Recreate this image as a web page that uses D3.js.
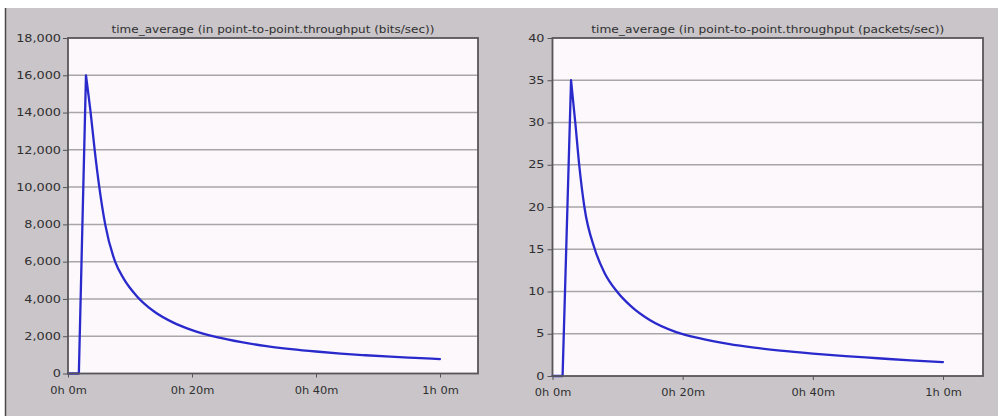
<!DOCTYPE html>
<html>
<head>
<meta charset="utf-8">
<script src="https://cdn.jsdelivr.net/npm/d3@7"></script>
<style>
  html, body { margin: 0; padding: 0; background: #ffffff; }
  svg { display: block; }
  text { font-family: "DejaVu Sans", "Liberation Sans", sans-serif; fill: #303030; }
</style>
</head>
<body>
<svg id="chart" width="998" height="416"></svg>
<script>
// ---- data ----
const xTickMinutes = [0, 20, 40, 60];
const xTickLabels = ["0h 0m", "0h 20m", "0h 40m", "1h 0m"];

const bitsTitle = "time_average (in point-to-point.throughput (bits/sec))";
const bitsTicks = [0, 2000, 4000, 6000, 8000, 10000, 12000, 14000, 16000, 18000];
const bitsMinutes = [0, 1.75, 2.9, 3.65, 4.3, 5.05, 6.0, 7.6, 9.0, 11.1, 14, 17, 20, 24, 28, 32, 36, 40, 44, 48, 52, 56, 60];
const bitsValues  = [0, 0, 16000, 14000, 12000, 10000, 8000, 6000, 5080, 4150, 3300, 2730, 2330, 1950, 1680, 1470, 1310, 1180, 1070, 980, 900, 835, 775];

const packetsTitle = "time_average (in point-to-point.throughput (packets/sec))";
const packetsTicks = [0, 5, 10, 15, 20, 25, 30, 35, 40];
const packetsMinutes = [0, 1.55, 2.85, 3.5, 4.1, 4.9, 6.5, 8.0, 9.9, 12, 15, 19, 23, 27, 31, 35, 40, 45, 50, 55, 60];
const packetsValues  = [0, 0, 35, 30, 25, 20, 15, 12.2, 10, 8.3, 6.6, 5.2, 4.4, 3.8, 3.35, 3.0, 2.65, 2.35, 2.1, 1.85, 1.65];

// ---- drawing ----
const svg = d3.select("#chart");
svg.append("rect").attr("x", 0).attr("y", 0).attr("width", 998).attr("height", 416).attr("fill", "#ffffff");
svg.append("rect").attr("x", 5).attr("y", 8).attr("width", 993).attr("height", 408).attr("fill", "#c9c5c9");
svg.append("line").attr("x1", 5.5).attr("x2", 5.5).attr("y1", 8).attr("y2", 416)
   .attr("stroke", "#4a4a4a").attr("stroke-width", 1.5);

function stretch(sel, factor) {
  sel.each(function () {
    const w = this.getComputedTextLength();
    d3.select(this).attr("textLength", w * factor).attr("lengthAdjust", "spacingAndGlyphs");
  });
}

function panel(opts) {
  const { title, minutes, values, yTicks, left, right, x60, top, bottom, titleWidth, yPad } = opts;
  const x = d3.scaleLinear().domain([0, 60]).range([left, x60]);
  const y = d3.scaleLinear().domain([0, d3.max(yTicks)]).range([bottom, top]);
  const g = svg.append("g");

  g.append("rect").attr("x", left).attr("y", top).attr("width", right - left).attr("height", bottom - top)
    .attr("fill", "#fcf8fc");

  g.selectAll("line.grid").data(yTicks.slice(1, -1)).join("line").attr("class", "grid")
    .attr("x1", left).attr("x2", right).attr("y1", d => y(d)).attr("y2", d => y(d))
    .attr("stroke", "#a8a6aa").attr("stroke-width", 1.5);

  const pts = minutes.map((m, i) => [m, values[i]]);
  const peak = d3.maxIndex(values);
  const rise = d3.line().x(d => x(d[0])).y(d => y(d[1]));
  const decay = d3.line().x(d => x(d[0])).y(d => y(d[1])).curve(d3.curveMonotoneX);
  const path = rise(pts.slice(0, peak + 1)) + decay(pts.slice(peak)).replace(/^M[^CL]*/, "");
  g.append("path").attr("d", path)
    .attr("fill", "none").attr("stroke", "#2a2acc").attr("stroke-width", 2.3)
    .attr("stroke-linejoin", "round").attr("stroke-linecap", "round");

  g.append("rect").attr("x", left).attr("y", top).attr("width", right - left).attr("height", bottom - top)
    .attr("fill", "none").attr("stroke", "#58565a").attr("stroke-width", 1.8);

  const ya = g.append("g").attr("transform", `translate(${left},0)`)
    .call(d3.axisLeft(y).tickValues(yTicks).tickFormat(d3.format(",")).tickSize(5).tickPadding(yPad));
  ya.select(".domain").remove();
  ya.selectAll("line").attr("stroke", "#555");
  ya.selectAll("text").attr("font-size", 10).attr("fill", "#303030").style("font-family", "DejaVu Sans");
  stretch(ya.selectAll("text"), 1.28);

  const xa = g.append("g").attr("transform", `translate(0,${bottom})`)
    .call(d3.axisBottom(x).tickValues(xTickMinutes).tickFormat((d, i) => xTickLabels[i]).tickSize(4).tickPadding(9));
  xa.select(".domain").remove();
  xa.selectAll("line").attr("stroke", "#555");
  xa.selectAll("text").attr("font-size", 10).attr("fill", "#303030").style("font-family", "DejaVu Sans");
  stretch(xa.selectAll("text"), 1.14);

  g.append("text").attr("x", (left + right) / 2).attr("y", top - 5)
    .attr("text-anchor", "middle").attr("font-size", 10)
    .attr("textLength", titleWidth).attr("lengthAdjust", "spacingAndGlyphs")
    .text(title);
}

panel({ title: bitsTitle, minutes: bitsMinutes, values: bitsValues, yTicks: bitsTicks,
        left: 68, right: 478, x60: 440, top: 38, bottom: 373.5, titleWidth: 323, yPad: 2 });
panel({ title: packetsTitle, minutes: packetsMinutes, values: packetsValues, yTicks: packetsTicks,
        left: 552.5, right: 983, x60: 943, top: 38, bottom: 376, titleWidth: 353, yPad: 3 });
</script>
</body>
</html>
